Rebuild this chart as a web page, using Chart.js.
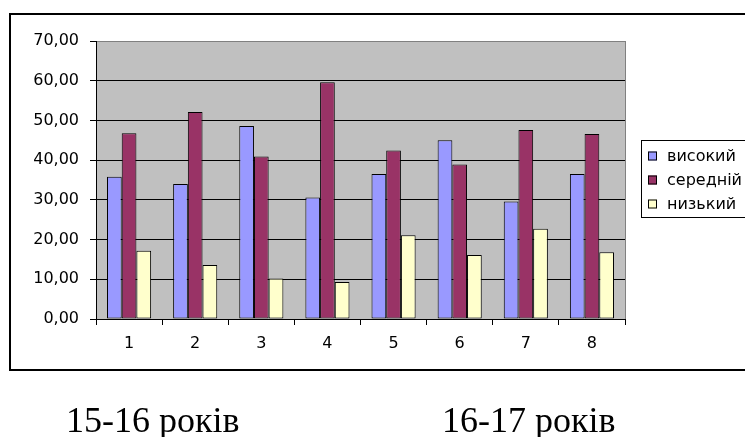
<!DOCTYPE html>
<html>
<head>
<meta charset="utf-8">
<script src="https://cdn.jsdelivr.net/npm/chart.js@4/dist/chart.umd.min.js"></script>
<style>
  html, body { margin: 0; padding: 0; background: #fff; overflow: hidden; }
  #wrap { position: relative; width: 745px; height: 437px; }
  canvas { position: absolute; left: 0; top: 0; }
  .caption {
    position: absolute;
    font-family: "Liberation Serif", "Times New Roman", serif;
    font-size: 36px;
    line-height: 36px;
    color: #000;
    white-space: nowrap;
  }
</style>
</head>
<body>
<div id="wrap">
  <canvas id="chart" width="745" height="437"></canvas>
  <div class="caption" style="left:66px; top:402px;">15-16 років</div>
  <div class="caption" style="left:442px; top:402px;">16-17 років</div>
</div>
<script>
// Test groups along the x axis
const categories = ['1', '2', '3', '4', '5', '6', '7', '8'];

// Share of pupils per level, %
const seriesNames = ['високий', 'середній', 'низький'];
const highLevel   = [35.8, 34.0, 48.6, 30.6, 36.5, 45.0, 29.6, 36.5];
const middleLevel = [46.8, 52.1, 40.9, 59.6, 42.4, 38.9, 47.6, 46.6];
const lowLevel    = [17.2, 13.6, 10.2, 9.3, 21.1, 16.1, 22.7, 16.8];

// Value axis labels
const yTickLabels = ['0,00', '10,00', '20,00', '30,00', '40,00', '50,00', '60,00', '70,00'];

const colors = ['#9999FF', '#993366', '#FFFFCC'];
const FONT = 'DejaVu Sans';

// Grey plot background plus the outer frame
const frame = {
  id: 'frame',
  beforeDraw(chart) {
    const { ctx, chartArea: a } = chart;
    ctx.save();
    ctx.fillStyle = '#C0C0C0';
    ctx.fillRect(a.left, a.top, a.right - a.left, a.bottom - a.top);
    ctx.restore();
  },
  afterDraw(chart) {
    const { ctx, chartArea: a } = chart;
    ctx.save();
    // plot area right edge
    ctx.strokeStyle = '#808080';
    ctx.lineWidth = 1;
    ctx.beginPath();
    ctx.moveTo(a.right + 0.5, a.top);
    ctx.lineTo(a.right + 0.5, a.bottom);
    ctx.stroke();
    // outer chart border
    ctx.strokeStyle = '#000';
    ctx.lineWidth = 2;
    ctx.strokeRect(10, 14, 780, 356);
    ctx.restore();
  }
};

// Boxed legend on the right
const boxedLegend = {
  id: 'boxedLegend',
  afterDraw(chart) {
    const { ctx } = chart;
    const left = 641, top = 140, bottom = 217;
    ctx.save();
    ctx.fillStyle = '#fff';
    ctx.fillRect(left, top, 200, bottom - top);
    ctx.strokeStyle = '#000';
    ctx.lineWidth = 1;
    ctx.strokeRect(left + 0.5, top + 0.5, 200, bottom - top);
    ctx.font = '16px "' + FONT + '"';
    ctx.textBaseline = 'alphabetic';
    chart.data.datasets.forEach((ds, i) => {
      const base = 160.5 + i * 24;
      ctx.fillStyle = ds.backgroundColor;
      ctx.fillRect(648, base - 9, 9, 9);
      ctx.strokeRect(648.5, base - 8.5, 8, 8);
      ctx.fillStyle = '#000';
      ctx.fillText(ds.label, 667, base);
    });
    ctx.restore();
  }
};

const makeSet = (label, data, color) => ({
  label,
  data,
  backgroundColor: color,
  borderColor: '#000',
  borderWidth: 1,
  borderSkipped: false,
  categoryPercentage: 0.667,
  barPercentage: 1.0
});

new Chart(document.getElementById('chart'), {
  type: 'bar',
  data: {
    labels: categories,
    datasets: [
      makeSet(seriesNames[0], highLevel, colors[0]),
      makeSet(seriesNames[1], middleLevel, colors[1]),
      makeSet(seriesNames[2], lowLevel, colors[2])
    ]
  },
  options: {
    responsive: false,
    animation: false,
    devicePixelRatio: 1,
    layout: { padding: { left: 10, right: 120, top: 41, bottom: 68 } },
    plugins: {
      legend: { display: false },
      tooltip: { enabled: false }
    },
    scales: {
      x: {
        grid: {
          drawOnChartArea: false,
          drawTicks: true,
          tickLength: 6,
          color: '#000',
          offset: true
        },
        border: { color: '#000', width: 1 },
        ticks: {
          color: '#000',
          font: { family: FONT, size: 16 },
          padding: 9,
          maxRotation: 0
        },
        afterFit(s) { s.height = 50; }
      },
      y: {
        min: 0,
        max: 70,
        ticks: {
          stepSize: 10,
          color: '#000',
          font: { family: FONT, size: 16 },
          padding: 11,
          callback: (v, i) => yTickLabels[i]
        },
        grid: {
          color: (c) => (c.tick && c.tick.value === 70 ? '#808080' : '#000'),
          tickColor: '#000',
          tickLength: 6,
          lineWidth: 1
        },
        border: { color: '#000', width: 1 },
        afterFit(s) { s.width = 86; }
      }
    }
  },
  plugins: [frame, boxedLegend]
});
</script>
</body>
</html>
